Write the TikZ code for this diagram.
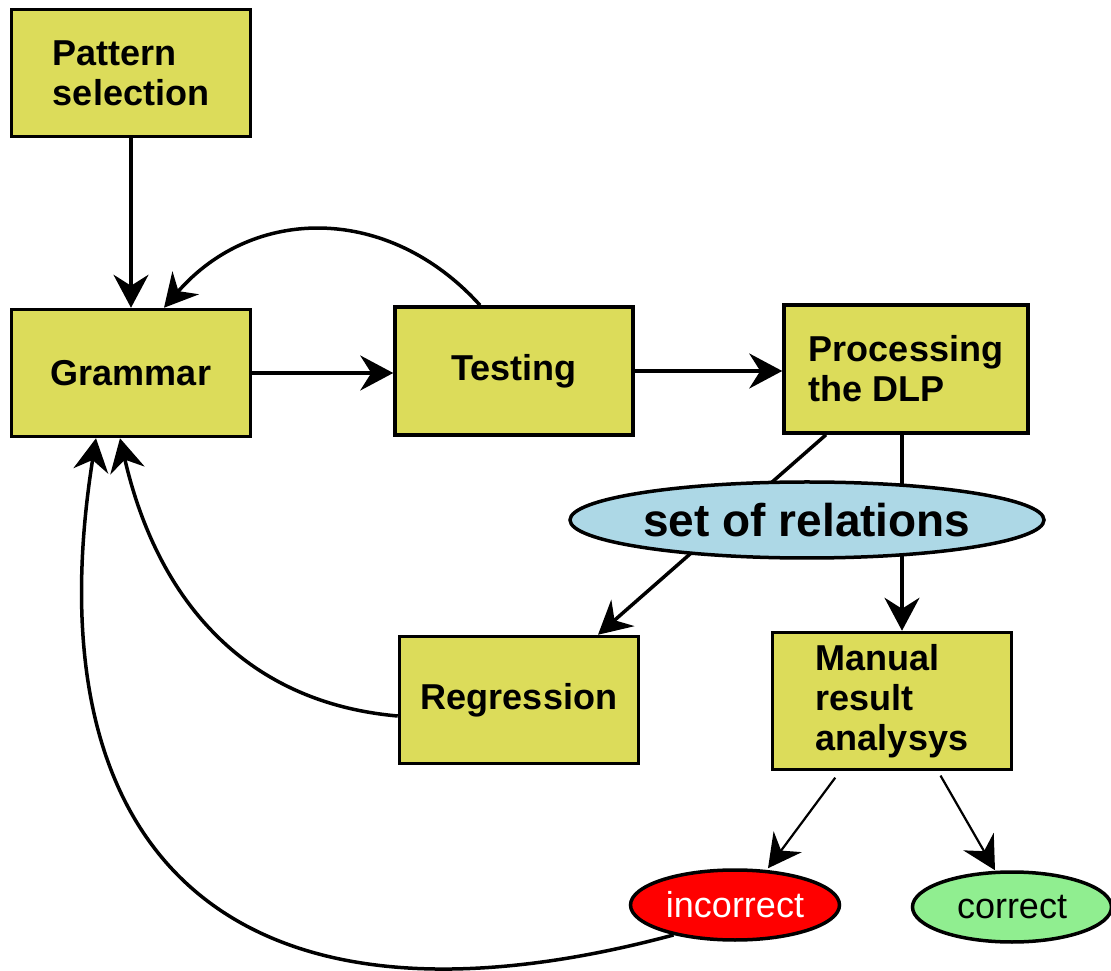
\documentclass[tikz,border=0pt]{standalone}
\usepackage{fontspec}
\setmainfont{Liberation Sans}
\usetikzlibrary{positioning,shapes,arrows.meta,backgrounds}
\definecolor{boxfill}{RGB}{220,220,90}
\definecolor{relfill}{RGB}{173,216,230}
\definecolor{okfill}{RGB}{144,238,144}

\begin{document}
\begin{tikzpicture}[x=1pt,y=1pt]
    \tikzstyle{every node}=[inner sep=0,line width=3.5]
    \tikzstyle{box}=[draw,fill=boxfill,rectangle,minimum width=239,minimum height=127,align=left,font=\bfseries\fontsize{36}{40}\selectfont]
    \tikzstyle{blob}=[draw,ellipse,minimum width=209,minimum height=70,font=\fontsize{36}{39}\selectfont]
    \tikzstyle{flow}=[->,>={Stealth[length=33pt,width=35pt,inset=11pt]},line width=3.5]
    \tikzstyle{thin}=[flow,line width=2.2]
    \useasboundingbox (0,0) rectangle (1111,970);
    {
        \node[box] (pat) at (131,897) {Pattern\\selection};
        \node[box,node distance=300] (gram) [below of=pat] {Grammar};
        \node[box,minimum width=238,minimum height=128] (test) at (514,599) {Testing};
        \node[box,minimum width=244,minimum height=128] (proc) at (906,601) {Processing\\the DLP};
        \node[blob,fill=relfill,minimum width=474,minimum height=76,font=\bfseries\fontsize{46}{50}\selectfont] (rels) at (807,450) {set of relations};
        \node[box] (regr) at (519,270) {Regression};
        \node[box,minimum height=137] (man) at (892,269) {Manual\\result\\analysys};
        \node[blob,fill=red,text=white] (inc) at (735,65) {incorrect};
        \node[blob,fill=okfill,minimum width=199] (cor) at (1012,63) {correct};

        \draw[flow] (pat) -- (gram);
        \draw[flow] (gram.east) -- (gram.east -| test.west);
        \draw[flow] (test.east) -- (test.east -| proc.west);
        \draw[flow] ([xshift=-34]test.north) to[out=132,in=49,looseness=1.1] ([xshift=33]gram.north);

        % these run under the ellipse
        \begin{scope}[on background layer]
            \draw[flow] ([xshift=-80]proc.south) -- ([xshift=79]regr.north);
            \draw[flow] ([xshift=-4]proc.south) -- ([xshift=10]man.north);
        \end{scope}

        \draw[flow] ([yshift=-16]regr.west) to[out=175,in=-77,out distance=150,in distance=170] ([xshift=-11]gram.south);
        \draw[flow] (inc.206) to[out=195,in=-99,out distance=460,in distance=420] ([xshift=-35]gram.south);

        \draw[thin,shorten <=8] ([xshift=-52]man.south) -- ([xshift=33]inc.north);
        \draw[thin,shorten <=5] ([xshift=46]man.south) -- ([xshift=-17]cor.north);
    }
\end{tikzpicture}
\end{document}
